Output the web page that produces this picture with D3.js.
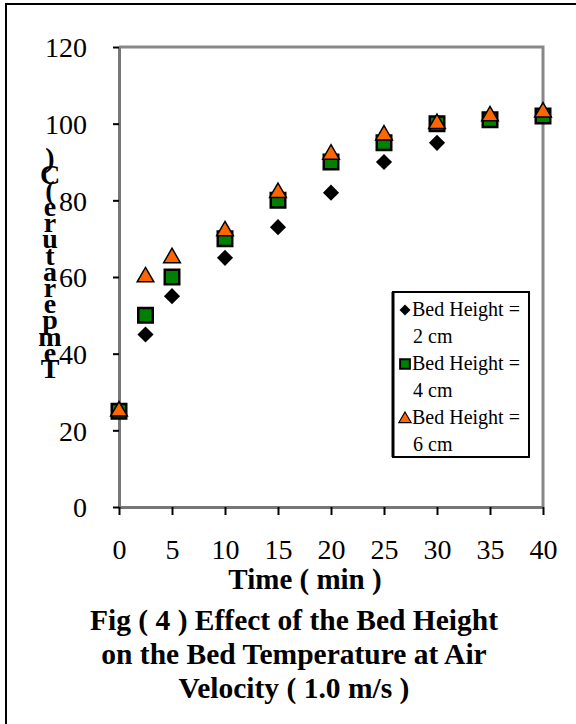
<!DOCTYPE html>
<html><head><meta charset="utf-8">
<script src="https://cdn.jsdelivr.net/npm/d3@7"></script>
<style>body{margin:0;background:#fff}svg{display:block}text{font-family:"Liberation Serif","Times New Roman",serif}</style>
</head><body>
<script>
const times = [0, 2.5, 5, 10, 15, 20, 25, 30, 35, 40];
const bed2 = [25, 45, 55, 65, 73, 82, 90, 95, 101, 102];
const bed4 = [25, 50, 60, 70, 80, 90, 95, 100, 101, 102];
const bed6 = [25, 60, 65, 72, 82, 92, 97, 100, 102, 103];
const seriesNames = ["Bed Height =|2 cm", "Bed Height =|4 cm", "Bed Height =|6 cm"];
const xTicks = [0, 5, 10, 15, 20, 25, 30, 35, 40];
const yTicks = [0, 20, 40, 60, 80, 100, 120];
const yTitle = "Temperature ( C )";
const xTitle = "Time ( min )";
const caption = ["Fig ( 4 ) Effect of the Bed Height", "on the Bed Temperature at Air", "Velocity ( 1.0 m/s )"];

const W = 576, H = 724;
const svg = d3.select("body").append("svg").attr("width", W).attr("height", H);
svg.append("rect").attr("x", 6).attr("y", 4).attr("width", 600).attr("height", 800)
  .attr("fill", "#fff").attr("stroke", "#000").attr("stroke-width", 2);

const x = d3.scaleLinear().domain([0, 40]).range([119, 543]);
const y = d3.scaleLinear().domain([0, 120]).range([507, 47]);

// frame
svg.append("path").attr("d", `M${x(0)},${y(120)}H${x(40)}V${y(0)}`)
  .attr("fill", "none").attr("stroke", "#888").attr("stroke-width", 3);

// axes
const yAx = svg.append("g").attr("transform", `translate(${x(0)},0)`)
  .call(d3.axisLeft(y).tickValues(yTicks).tickSize(6).tickPadding(26).tickSizeOuter(0));
const xAx = svg.append("g").attr("transform", `translate(0,${y(0)})`)
  .call(d3.axisBottom(x).tickValues(xTicks).tickSize(8).tickPadding(24).tickSizeOuter(0));
[yAx, xAx].forEach(g => {
  g.select(".domain").attr("stroke", "#777").attr("stroke-width", 3);
  g.selectAll(".tick line").attr("stroke", "#000").attr("stroke-width", 2);
  g.selectAll(".tick text").attr("font-size", 28).attr("fill", "#000")
    .attr("font-family", "Liberation Serif");
});
yAx.selectAll(".tick text").attr("dy", "0.35em");
xAx.selectAll(".tick text").attr("dy", "0.71em");

// markers
const sq = d3.symbol().type(d3.symbolSquare);
const tri = d3.symbol().type(d3.symbolTriangle);
const data2 = times.map((t, i) => ({t, v: bed2[i]}));
const data4 = times.map((t, i) => ({t, v: bed4[i]}));
const data6 = times.map((t, i) => ({t, v: bed6[i]}));
const plot = svg.append("g");
plot.selectAll(".d2").data(data2).join("path")
  .attr("d", sq.size(130)())
  .attr("transform", d => `translate(${x(d.t)},${y(d.v)}) rotate(45)`)
  .attr("fill", "#000");
plot.selectAll(".d4").data(data4).join("path")
  .attr("d", sq.size(210)())
  .attr("transform", d => `translate(${x(d.t)},${y(d.v)})`)
  .attr("fill", "#008000").attr("stroke", "#000").attr("stroke-width", 2.5);
plot.selectAll(".d6").data(data6).join("path")
  .attr("d", tri.size(120)())
  .attr("transform", d => `translate(${x(d.t)},${y(d.v)})`)
  .attr("fill", "#FF6600").attr("stroke", "#000").attr("stroke-width", 1.5);

// legend
const lg = svg.append("g");
lg.append("rect").attr("x", 393).attr("y", 292).attr("width", 136).attr("height", 165)
  .attr("fill", "#fff").attr("stroke", "#000").attr("stroke-width", 2);
lg.append("line").attr("x1", 393).attr("x2", 393).attr("y1", 292).attr("y2", 457)
  .attr("stroke", "#000").attr("stroke-width", 3);
const legY = [310, 364, 418];
seriesNames.forEach((nm, i) => {
  const [a, b] = nm.split("|");
  const yy = legY[i];
  if (i === 0) lg.append("path").attr("d", sq.size(60)()).attr("transform", `translate(405,${yy}) rotate(45)`).attr("fill", "#000");
  if (i === 1) lg.append("path").attr("d", sq.size(95)()).attr("transform", `translate(405,${yy})`).attr("fill", "#008000").attr("stroke", "#000").attr("stroke-width", 2);
  if (i === 2) lg.append("path").attr("d", tri.size(65)()).attr("transform", `translate(405,${yy+1})`).attr("fill", "#FF6600").attr("stroke", "#000").attr("stroke-width", 1.2);
  lg.append("text").attr("x", 412).attr("y", yy + 6).attr("font-size", 20).text(a);
  lg.append("text").attr("x", 413).attr("y", yy + 33).attr("font-size", 20).text(b);
});

// y title: stacked upright letters, bottom to top, in a single text element
const chars = yTitle.replace(/ /g, "").split("");
const yt = svg.append("text").attr("text-anchor", "middle")
  .attr("font-size", 28).attr("font-weight", "bold");
chars.forEach((c, i) => {
  yt.append("tspan").attr("x", 50).attr("y", 378 - i * 16.2).text(c);
});

// x title
svg.append("text").attr("x", 305).attr("y", 589).attr("text-anchor", "middle")
  .attr("font-size", 29).attr("font-weight", "bold").text(xTitle);

caption.forEach((c, i) => {
  svg.append("text").attr("x", 294).attr("y", 630 + i * 34).attr("text-anchor", "middle")
    .attr("font-size", 29.5).attr("font-weight", "bold").text(c);
});
</script>
</body></html>
